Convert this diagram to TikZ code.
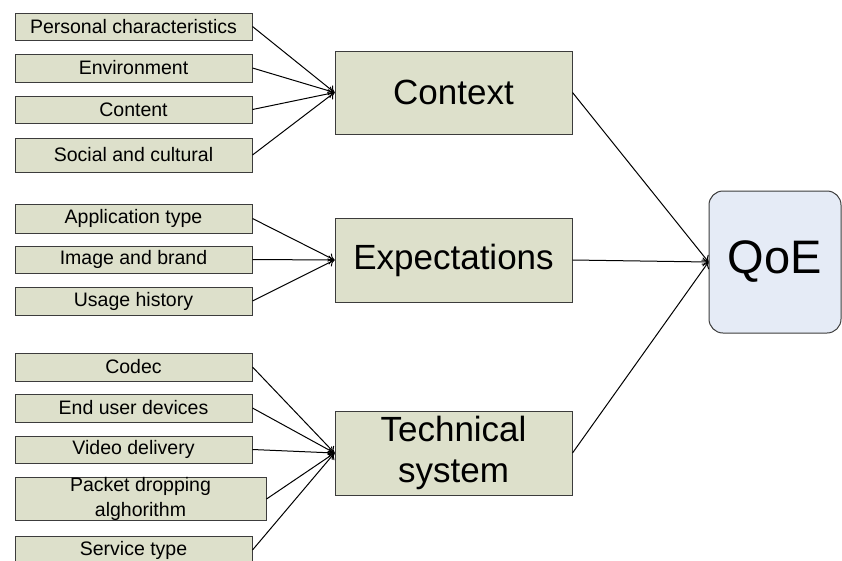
\documentclass[tikz,border=0pt]{standalone}
\usepackage{fontspec}
\setmainfont{Liberation Sans}
\usetikzlibrary{arrows.meta}
\definecolor{boxgreen}{RGB}{221,224,203}
\definecolor{qoeblue}{RGB}{229,235,246}
\definecolor{edgegray}{RGB}{60,60,60}
\begin{document}
\begin{tikzpicture}[x=1pt,y=-1pt,
  factor/.style={draw=edgegray,line width=1pt,fill=boxgreen,inner sep=0pt,
    minimum width=237pt,font=\fontsize{19.5}{25}\selectfont,align=center},
  group/.style={draw=edgegray,line width=1pt,fill=boxgreen,inner sep=0pt,
    minimum width=237pt,minimum height=84pt,font=\fontsize{35}{41}\selectfont,align=center},
  qoe/.style={draw=edgegray,line width=1pt,fill=qoeblue,rounded corners=14pt,inner sep=0pt,
    minimum width=132pt,minimum height=142pt,font=\fontsize{47}{50}\selectfont},
  link/.style={line width=1pt,-{To[length=6pt,width=9pt]}}]
\useasboundingbox (0,0) rectangle (842,560);
% left factor boxes
\node[factor,minimum height=27pt] (pc) at (133.5,26.5) {Personal characteristics};
\node[factor,minimum height=28pt] (env) at (133.5,68) {Environment};
\node[factor,minimum height=27pt] (cont) at (133.5,109.5) {Content};
\node[factor,minimum height=34pt] (soc) at (133.5,155) {Social and cultural};
\node[factor,minimum height=29pt] (app) at (133.5,218.5) {Application type};
\node[factor,minimum height=27pt] (img) at (133.5,259.5) {Image and brand};
\node[factor,minimum height=28pt] (usage) at (133.5,301) {Usage history};
\node[factor,minimum height=28pt] (codec) at (133.5,367) {Codec};
\node[factor,minimum height=28pt] (end) at (133.5,408) {End user devices};
\node[factor,minimum height=27pt] (video) at (133.5,449.5) {Video delivery};
\node[factor,minimum height=42pt,minimum width=251pt] (packet) at (140.5,499) {Packet dropping\\alghorithm};
\node[factor,minimum height=28pt] (service) at (133.5,550) {Service type};
% group boxes
\node[group,minimum height=83pt] (context) at (453.5,92.5) {Context};
\node[group] (expect) at (453.5,260) {Expectations};
\node[group] (tech) at (453.5,453) {Technical\\system};
% QoE
\node[qoe] (q) at (775,262) {QoE};
% connectors
\foreach \s in {pc,env,cont,soc} \draw[link] (\s.east) -- (context.west);
\foreach \s in {app,img,usage} \draw[link] (\s.east) -- (expect.west);
\foreach \s in {codec,end,video,packet,service} \draw[link] (\s.east) -- (tech.west);
\foreach \s in {context,expect,tech} \draw[link] (\s.east) -- (q.west);
\end{tikzpicture}
\end{document}
